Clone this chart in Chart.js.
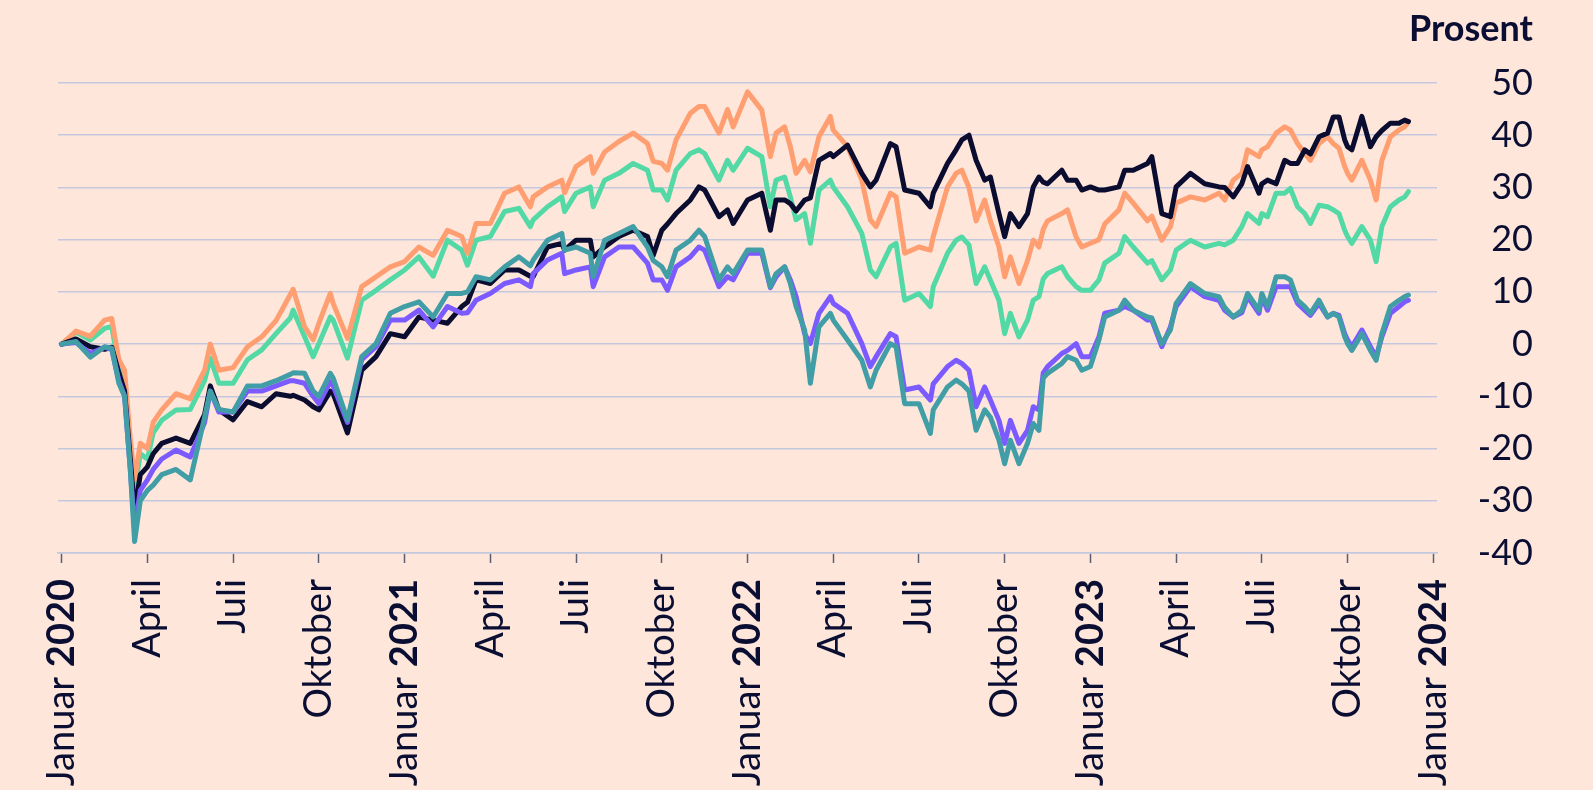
<!DOCTYPE html>
<html>
<head>
<meta charset="utf-8">
<script src="https://cdn.jsdelivr.net/npm/chart.js@4.4.1/dist/chart.umd.min.js"></script>
<style>
  html, body { margin: 0; padding: 0; background: #fee6da; }
  #wrap { width: 1593px; height: 790px; position: relative; }
</style>
</head>
<body>
<div id="wrap"><canvas id="chart"></canvas></div>
<script>
// months after 1 Jan 2020
const months = [
  0, 0.5, 1, 1.5, 1.75, 2.0, 2.2, 2.4, 2.55, 2.75,
  3.0, 3.2, 3.5, 4.0, 4.5, 5.0, 5.2, 5.5, 6.0, 6.5,
  7.0, 7.5, 8.0, 8.1, 8.5, 8.8, 9.0, 9.4, 9.5, 10.0,
  10.5, 11, 11.5, 12, 12.5, 13, 13.5, 14, 14.2, 14.5,
  15, 15.5, 16, 16.4, 16.5, 17, 17.5, 17.6, 18, 18.5,
  18.6, 19, 19.5, 20, 20.5, 20.7, 21, 21.2, 21.5, 22,
  22.3, 22.5, 23, 23.3, 23.5, 24, 24.5, 24.8, 25, 25.3,
  25.5, 25.7, 26, 26.2, 26.5, 26.9, 27, 27.5, 28, 28.3,
  28.5, 29, 29.2, 29.5, 30, 30.4, 30.5, 31, 31.3, 31.5,
  31.75, 32, 32.3, 32.5, 32.8, 33, 33.2, 33.5, 33.8, 34,
  34.2, 34.35, 34.5, 35, 35.2, 35.5, 35.7, 36, 36.3, 36.5,
  37, 37.2, 37.5, 38, 38.15, 38.5, 38.8, 39, 39.5, 40,
  40.5, 40.7, 41, 41.3, 41.5, 41.9, 42, 42.2, 42.5, 42.8,
  43, 43.25, 43.5, 43.7, 44, 44.3, 44.5, 44.7, 44.9, 45,
  45.15, 45.5, 45.8, 46, 46.2, 46.5, 46.8, 47, 47.13
];

const orange = [
  0, 2.5, 1.5, 4.6, 4.9, -3, -5, -18, -26, -19,
  -20, -15, -12.6, -9.5, -10.5, -5, 0, -5, -4.5, -0.5,
  1.4, 4.5, 9.5, 10.5, 3.3, 0.8, 4, 9.7, 7.8, 1.1,
  11, 12.9, 14.8, 15.8, 18.6, 17, 21.8, 20.6, 17.4, 23.1,
  23.1, 28.9, 30.1, 26.3, 28.2, 30.1, 31.4, 29, 34, 35.9,
  32.7, 36.8, 38.8, 40.4, 38.4, 35, 34.6, 33.3, 39.1, 44.2,
  45.5, 45.5, 40.4, 44.9, 41.6, 48.3, 44.8, 35.9, 40.4, 41.6,
  37.8, 32.7, 35.2, 33, 39.7, 43.6, 41, 37.8, 31.4, 23.8,
  22.5, 28.9, 28.2, 17.4, 18.6, 18, 20.6, 30.1, 32.7, 33.3,
  30, 23.6, 27.6, 23.6, 18.6, 12.9, 16.7, 11.6, 16, 19.9,
  18.6, 22, 23.6, 25, 25.7, 20.5, 18.6, 19.3, 20, 23,
  25.7, 28.9, 27, 23.6, 24.5, 19.9, 22.5, 27, 28.2, 27.6,
  28.9, 27.6, 31.4, 32.7, 37.2, 35.9, 37.2, 37.8, 40.4, 41.6,
  41, 38.4, 36.5, 35.2, 38.4, 39.7, 38.4, 37.5, 34, 32.7,
  31.4, 35.2, 31.4, 27.6, 35.2, 39.7, 41, 41.6, 42.6
];

const green = [
  0, 2.3, 0.8, 3.0, 3.4, -4.5, -7, -20, -28, -21,
  -22, -17, -14.6, -12.6, -12.5, -7, -2.7, -7.5, -7.5, -3,
  -1.1, 2, 5, 6.5, 1.4, -2.4, 0.1, 5.2, 4.6, -2.7,
  8.4, 10.3, 12.3, 14.2, 16.7, 13, 19.9, 18, 15.1, 19.9,
  20.6, 25.4, 26, 22.5, 23.8, 26.3, 28.2, 25.4, 28.9, 30.1,
  26.3, 31.4, 32.7, 34.6, 33.3, 29.5, 29.5, 27.6, 33.3, 36.5,
  37.2, 36.5, 31.4, 35.2, 33.3, 37.5, 35.9, 26.3, 31.4, 32,
  28.2, 23.8, 25, 19.3, 29.5, 31.4, 30.1, 26.3, 21.2, 14.2,
  12.9, 18.6, 19.3, 8.4, 9.7, 7.2, 11, 17.4, 19.9, 20.5,
  19, 11.6, 14.8, 12.3, 8.4, 2, 5.9, 1.4, 4.6, 8.4,
  9.1, 12.5, 13.5, 14.8, 12.9, 11, 10.3, 10.3, 12.3, 15.5,
  17.4, 20.6, 18.6, 15.5, 16, 12.3, 14.2, 18, 19.9, 18.6,
  19.3, 19, 19.9, 22.5, 25, 23.1, 25, 24.4, 28.9, 28.9,
  29.8, 26.3, 25, 23.1, 26.6, 26.3, 25.7, 25, 21.8, 20.6,
  19.3, 22.5, 19.9, 15.8, 22.5, 26.3, 27.6, 28.2, 29.2
];

const navy = [
  0, 1.0, -0.5, -1.0, -0.6, -5.5, -9, -22, -32, -25,
  -23.5, -21, -19, -18, -19, -13.5, -8, -12.6, -14.5, -11,
  -12, -9.5, -10, -9.8, -10.7, -12, -12.6, -9, -9.5, -17,
  -5, -2.4, 2, 1.4, 5.2, 4.6, 4, 7.2, 8, 12.3,
  11.6, 14.2, 14.2, 13, 12.9, 18.6, 19.3, 18, 19.9, 19.9,
  16.7, 18.6, 20.6, 21.8, 20.6, 17, 21.8, 23, 25, 27.6,
  30.1, 29.5, 24.4, 25.7, 23.1, 27.6, 28.9, 21.8, 27.6, 27.6,
  26.9, 25.5, 27.6, 28, 35.2, 36.5, 35.9, 38.1, 32.7, 30.1,
  31.4, 38.4, 37.8, 29.5, 28.9, 26.3, 28.9, 34.6, 37.2, 39.1,
  40, 35.2, 31.4, 32, 25, 20.6, 25, 22.5, 25, 30.1,
  32, 31, 30.7, 33.3, 31.4, 31.4, 29.5, 30.1, 29.5, 29.5,
  30.1, 33.3, 33.3, 34.6, 35.9, 25, 24.4, 30.1, 32.7, 30.7,
  30.1, 30, 28.2, 30.7, 34, 28.9, 30.7, 31.4, 30.7, 35.2,
  34.6, 34.6, 37.2, 36.4, 39.7, 40.4, 43.5, 43.5, 39.1, 37.8,
  37.2, 43.6, 37.8, 39.7, 40.9, 42.3, 42.3, 42.9, 42.6
];

const purple = [
  0, 0.3, -1.8, -0.6, -1.0, -7, -10, -24, -35.5, -28,
  -26, -24, -22, -20.3, -21.6, -15, -9, -13, -13, -9,
  -9, -8, -7, -7, -7.5, -10, -11.4, -7.2, -8, -15,
  -3, -0.5, 4.6, 4.6, 6.5, 3.3, 7.2, 5.9, 6, 8.4,
  9.7, 11.6, 12.3, 11, 13.5, 16.1, 17.4, 13.5, 14.2, 14.8,
  11, 16.7, 18.6, 18.6, 15.5, 12.3, 12.3, 10.3, 14.8, 16.7,
  18.6, 18, 11, 12.9, 12.3, 17.4, 17.4, 10.8, 12.9, 14.8,
  12.3, 9.1, 2, 0.1, 5.9, 9.1, 7.8, 5.9, 0.1, -4.3,
  -2.4, 2, 1.4, -8.8, -8.2, -10.7, -7.6, -4.3, -3.1, -3.7,
  -5, -12, -8.2, -10.7, -14.6, -19, -14.6, -19, -16.5, -12,
  -12.6, -5.5, -4.3, -1.8, -1.2, 0.1, -2.4, -2.4, 1.4, 5.9,
  6.5, 7.2, 6.5, 4.6, 4.6, -0.5, 3.3, 7.2, 11, 9.1,
  8.4, 6.5, 5.2, 6, 9.1, 5.9, 9.1, 6.5, 11, 11,
  11, 7.8, 6.5, 5.5, 7.8, 5.2, 5.9, 5.5, 2, 0.8,
  -0.5, 2.7, -0.5, -2.5, 1.4, 5.9, 7.2, 8.1, 8.4
];

const teal = [
  0, 0.5, -2.5, -0.5, -0.8, -7.5, -10, -24, -37.8, -30,
  -28, -27, -25, -24, -26, -14, -9, -12.5, -13, -8,
  -8, -7, -5.8, -5.5, -5.6, -9, -10, -5.6, -6.5, -14.5,
  -2.4, 0.1, 5.9, 7.2, 8.1, 5.2, 9.7, 9.7, 10, 12.9,
  12.3, 14.8, 16.7, 15, 16.1, 19.9, 21.2, 18, 18.6, 17.4,
  12.9, 19.9, 21.2, 22.5, 18.6, 16, 14.8, 12.9, 18, 19.9,
  21.8, 20.6, 12.3, 14.8, 13.5, 18, 18, 11, 13.5, 14.8,
  11.6, 7.2, 2.7, -7.5, 3.3, 5.9, 4.6, 0.8, -3.1, -8.2,
  -5, 0.1, -0.5, -11.4, -11.4, -17.1, -12.6, -8.2, -6.9, -7.6,
  -9, -16.5, -12.6, -14, -18.4, -22.9, -18.4, -22.9, -19, -15.2,
  -16.5, -6.5, -5.6, -3.7, -2.4, -3.1, -5, -4.3, 0.8, 5.2,
  6.5, 8.4, 6.5, 5.2, 5, 0.1, 2.7, 7.8, 11.6, 9.7,
  9.1, 7, 5.2, 6.5, 9.7, 6.5, 9.7, 7.2, 12.9, 12.9,
  12.3, 8.4, 7.2, 5.9, 8.4, 5.2, 5.9, 5.2, 1.4, 0.1,
  -1.2, 2, -1.2, -3.1, 2, 7.2, 8.4, 9.1, 9.4
];

const tickMonths = [0, 3, 6, 9, 12, 15, 18, 21, 24, 27, 30, 33, 36, 39, 42, 45, 48];
const tickLabels = [
  'Januar 2020', 'April', 'Juli', 'Oktober',
  'Januar 2021', 'April', 'Juli', 'Oktober',
  'Januar 2022', 'April', 'Juli', 'Oktober',
  'Januar 2023', 'April', 'Juli', 'Oktober',
  'Januar 2024'
];
const yTicks = [-40, -30, -20, -10, 0, 10, 20, 30, 40, 50];

const ink = '#0b0e33';
const grid = '#c3c8de';
const fam = 'Lato, "Open Sans", sans-serif';

// x labels: rotated, with bold year
const xLabels = {
  id: 'xLabels',
  afterDraw(chart) {
    const { ctx, chartArea } = chart;
    const x = chart.scales.x;
    ctx.save();
    ctx.fillStyle = ink;
    ctx.textBaseline = 'middle';
    ctx.textAlign = 'right';
    tickMonths.forEach((m, i) => {
      const px = x.getPixelForValue(m);
      const parts = tickLabels[i].split(' ');
      ctx.save();
      ctx.translate(px, chartArea.bottom + 26);
      ctx.rotate(-Math.PI / 2);
      let off = 0;
      if (parts[1]) {
        ctx.font = 'bold 38px ' + fam;
        ctx.fillText(parts[1], 0, 0);
        off = ctx.measureText(parts[1]).width;
        ctx.font = '38px ' + fam;
        off += ctx.measureText(' ').width;
      }
      ctx.font = '38px ' + fam;
      ctx.fillText(parts[0], -off, 0);
      ctx.restore();
    });
    // unit title
    ctx.font = 'bold 36px ' + fam;
    ctx.textAlign = 'right';
    ctx.textBaseline = 'alphabetic';
    ctx.fillText('Prosent', chartArea.right + 96, chartArea.top - 42);
    ctx.restore();
  }
};

function mk(label, data, color, order) {
  return {
    label, data, order,
    borderColor: color,
    backgroundColor: color,
    borderWidth: 5,
    pointRadius: 0,
    tension: 0,
    borderJoinStyle: 'round',
    borderCapStyle: 'round',
  };
}

function build() {
  new Chart(document.getElementById('chart'), {
    type: 'line',
    data: {
      labels: months,
      datasets: [
        mk('teal', teal, '#429ea6', 1),
        mk('purple', purple, '#7b5aff', 2),
        mk('navy', navy, '#0a0c30', 3),
        mk('orange', orange, '#ff9f71', 4),
        mk('green', green, '#52d9a5', 5),
      ],
    },
    options: {
      responsive: true,
      maintainAspectRatio: false,
      animation: false,
      layout: { padding: { left: 58, right: 60, top: 83, bottom: 0 } },
      plugins: { legend: { display: false }, tooltip: { enabled: false } },
      scales: {
        x: {
          type: 'linear',
          min: -0.13,
          max: 48.13,
          afterBuildTicks: s => { s.ticks = tickMonths.map(v => ({ value: v })); },
          afterFit: s => { s.height = 237; },
          ticks: { display: false },
          grid: {
            drawOnChartArea: false,
            drawTicks: true,
            tickLength: 10,
            tickColor: '#5b5d72',
            tickWidth: 1.5,
          },
          border: { display: true, color: grid, width: 1.5 },
        },
        y: {
          position: 'right',
          min: -40,
          max: 50,
          afterBuildTicks: s => { s.ticks = yTicks.map(v => ({ value: v })); },
          afterFit: s => { s.width = 96; },
          ticks: {
            color: ink,
            font: { family: fam, size: 36 },
            crossAlign: 'far',
            padding: 41,
          },
          grid: { color: grid, lineWidth: 1.5, drawTicks: false },
          border: { display: false },
        },
      },
    },
    plugins: [xLabels],
  });
}

Promise.all([
  document.fonts.load('38px Lato'),
  document.fonts.load('bold 38px Lato'),
]).then(build, build);
</script>
</body>
</html>
